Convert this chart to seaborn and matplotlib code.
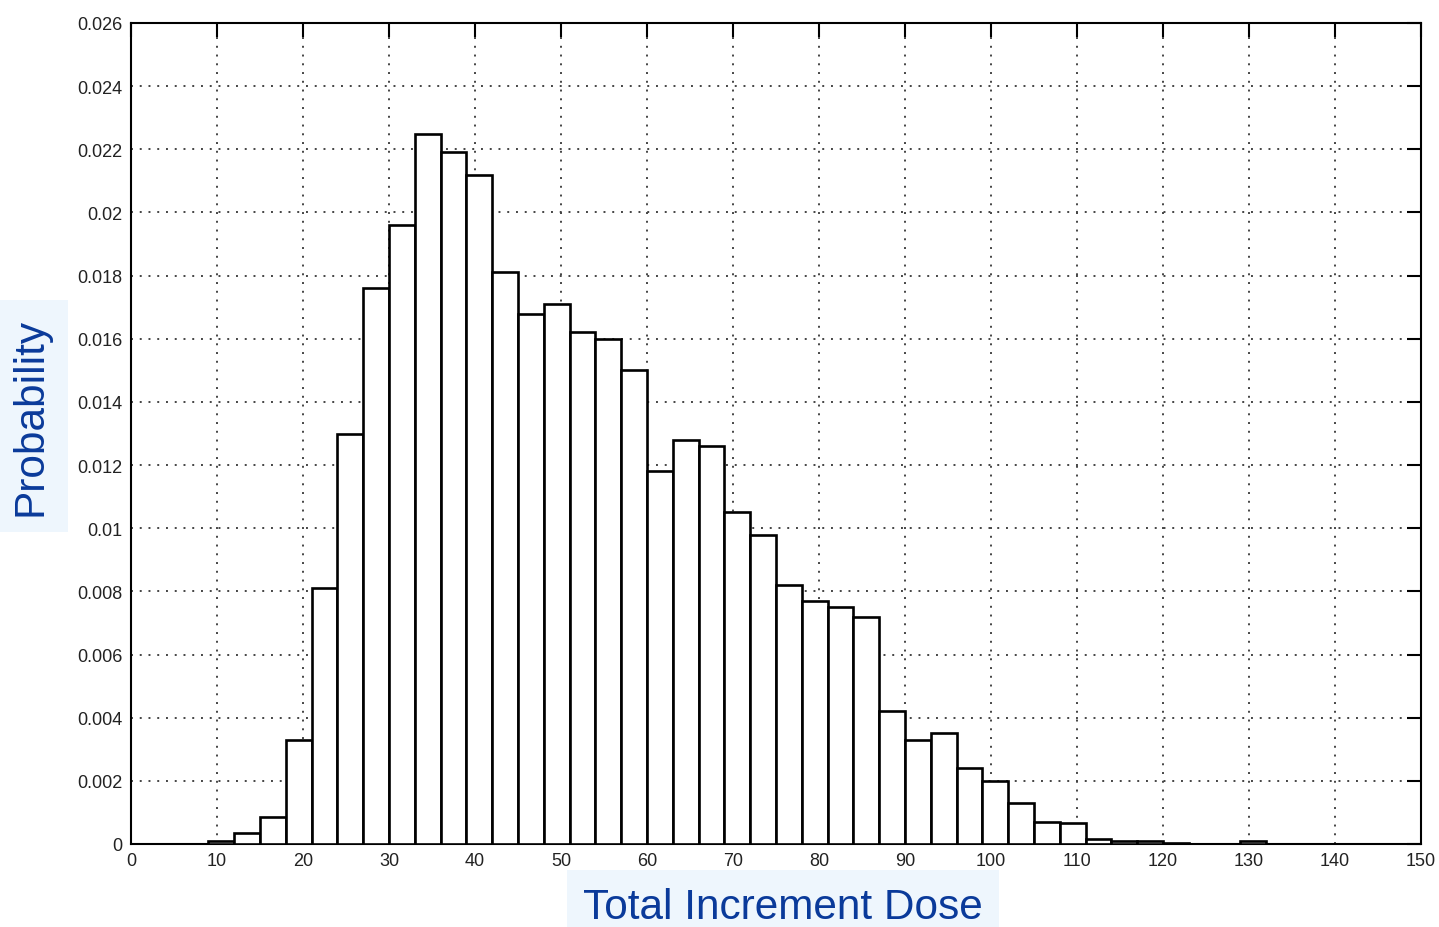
import numpy as np
import matplotlib
matplotlib.use("Agg")
import matplotlib.pyplot as plt
import seaborn as sns
from matplotlib.ticker import FuncFormatter

# bin edges of the histogram (width 3, from 9 to 132)
bin_edges = list(range(9, 133, 3))
# probability density of each bin
probability = [0.0001, 0.00035, 0.00085, 0.0033, 0.0081, 0.0130, 0.0176, 0.0196,
               0.0225, 0.0219, 0.0212, 0.0181, 0.0168, 0.0171, 0.0162, 0.0160,
               0.0150, 0.0118, 0.0128, 0.0126, 0.0105, 0.0098, 0.0082, 0.0077,
               0.0075, 0.0072, 0.0042, 0.0033, 0.0035, 0.0024, 0.0020, 0.0013,
               0.0007, 0.00065, 0.00015, 0.0001, 0.0001, 0.00002, 0.0, 0.0, 0.0001]
bin_centers = [e + 1.5 for e in bin_edges[:-1]]

x_ticks = list(range(0, 151, 10))
y_ticks = [i * 0.002 for i in range(14)]

sns.set_style("white")
plt.rcParams['font.family'] = ['Liberation Sans', 'DejaVu Sans']

fig = plt.figure(figsize=(14.39, 9.28), dpi=100)
ax = fig.add_axes([131/1439, 1 - 845/928, (1421-131)/1439, (845-24)/928])

sns.histplot(x=bin_centers, weights=probability, bins=bin_edges, stat='count',
             color='white', edgecolor='black', linewidth=1.9, alpha=1,
             element='bars', ax=ax, zorder=3)

ax.set_xlim(0, 150)
ax.set_ylim(0, 0.026)
ax.set_xticks(x_ticks)
ax.set_yticks(y_ticks)
ax.yaxis.set_major_formatter(FuncFormatter(lambda v, p: '%g' % round(v, 4)))
ax.tick_params(direction='in', length=10, width=1.5, labelsize=13,
               top=True, right=True, colors='black', pad=6)
for t in ax.get_xticklabels() + ax.get_yticklabels():
    t.set_color('#222222')
ax.grid(True, linestyle=(0, (1, 3.5)), color='#444444', linewidth=1.4, zorder=0)
ax.set_axisbelow(True)
for s in ax.spines.values():
    s.set_color('black')
    s.set_linewidth(1.5)

ax.set_xlabel('')
ax.set_ylabel('')
fig.text(783/1439, 1 - 908/928, 'Total Increment Dose', fontsize=30.5, color='#0a3a9a',
         ha='center', va='center',
         bbox=dict(facecolor='#eef6fd', edgecolor='none', pad=12))
fig.text(31/1439, 1 - 417/928, 'Probability', fontsize=30.5, color='#0a3a9a',
         ha='center', va='center', rotation=90,
         bbox=dict(facecolor='#eef6fd', edgecolor='none', pad=12))

fig.savefig('out.png', dpi=100)
